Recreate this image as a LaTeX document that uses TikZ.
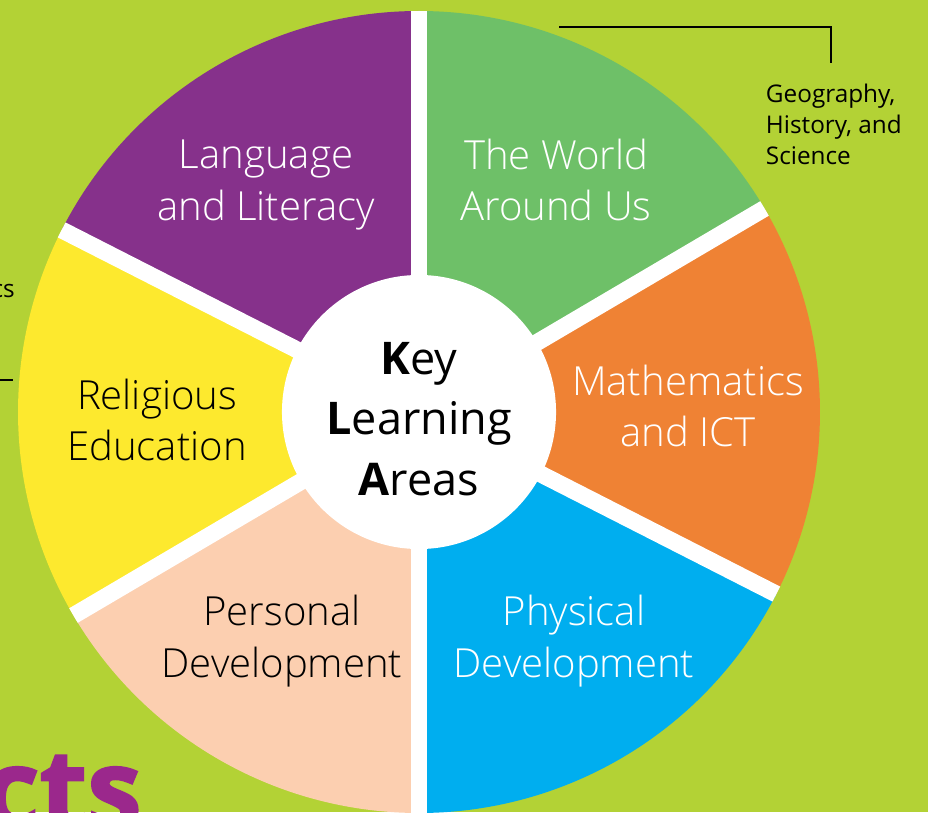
\documentclass[tikz,border=0pt]{standalone}
\usepackage{fontspec}
\setmainfont{Open Sans}
\IfFontExistsTF{Open Sans Light}{\newfontfamily\lightfont{Open Sans Light}}{\newfontfamily\lightfont{Open Sans}}
\newfontfamily\ctsfont[BoldFeatures={FakeBold=2}]{Open Sans}
\usepackage{tikz}
\usetikzlibrary{positioning}

\definecolor{bggreen}{RGB}{179,210,53}
\definecolor{klapurple}{RGB}{134,49,139}
\definecolor{klagreen}{RGB}{110,192,104}
\definecolor{klaorange}{RGB}{239,130,52}
\definecolor{klablue}{RGB}{0,174,239}
\definecolor{klapeach}{RGB}{252,207,176}
\definecolor{klayellow}{RGB}{253,233,46}
\definecolor{ctspurple}{RGB}{155,40,140}

\begin{document}
\begin{tikzpicture}[x=0.025cm,y=0.025cm]
  \useasboundingbox (0,0) rectangle (928,812);
  \fill[bggreen] (0,0) rectangle (928,812);

  \coordinate (centre) at (419,400);

  \fill[klapurple] (centre) -- ++(90:401) arc[start angle=90,end angle=153,radius=401] -- cycle;
  \fill[klagreen] (centre) -- ++(30.5:401) arc[start angle=30.5,end angle=90,radius=401] -- cycle;
  \fill[klaorange] (centre) -- ++(-27:401) arc[start angle=-27,end angle=30.5,radius=401] -- cycle;
  \fill[klablue] (centre) -- ++(-90:401) arc[start angle=-90,end angle=-27,radius=401] -- cycle;
  \fill[klapeach] (centre) -- ++(210.5:401) arc[start angle=210.5,end angle=270,radius=401] -- cycle;
  \fill[klayellow] (centre) -- ++(153:401) arc[start angle=153,end angle=210.5,radius=401] -- cycle;

  \begin{scope}
    \clip (centre) circle[radius=401];
    \draw[white,line width=12pt] ([shift={(90:410)}]centre) -- ([shift={(270:410)}]centre);
    \draw[white,line width=12pt] ([shift={(30.5:410)}]centre) -- ([shift={(210.5:410)}]centre);
    \draw[white,line width=12pt] ([shift={(153:410)}]centre) -- ([shift={(333:410)}]centre);
  \end{scope}

  \node at (419,400) [circle,fill=white,minimum size=6.85cm] (kla) {};
  \node at (419,393) [align=center,font=\fontsize{32}{43}\selectfont] (kla-text) {
    \textbf{K}ey\\
    \textbf{L}earning\\
    \textbf{A}reas
  };

  \node at (266,627) [align=center,text=white,font=\lightfont\fontsize{28.5}{36.5}\selectfont] (language) {
    Language\\
    and Literacy
  };

  \node at (556,632) [align=center,text=white,font=\lightfont\fontsize{28.5}{36.5}\selectfont] (world) {
    The World\\
    Around Us
  };

  \node at (688,406) [align=center,text=white,font=\lightfont\fontsize{28.5}{36.5}\selectfont] (maths) {
    Mathematics\\
    and ICT
  };

  \node at (574,171) [align=center,text=white,font=\lightfont\fontsize{28.5}{36.5}\selectfont] (physical) {
    Physical\\
    Development
  };

  \node at (282,171) [align=center,text=black,font=\lightfont\fontsize{28.5}{36.5}\selectfont] (personal) {
    Personal\\
    Development
  };

  \node at (157,392) [align=center,text=black,font=\lightfont\fontsize{28.5}{36.5}\selectfont] (religious) {
    Religious\\
    Education
  };

  \node at (761,688) [anchor=west,align=left,font=\fontsize{17.3}{22}\selectfont] (geo) {
    Geography,\\
    History, and\\
    Science
  };

  \node at (15,521) [anchor=east,inner sep=0pt,font=\fontsize{17.3}{22}\selectfont] (maths-note) {cs};

  \node at (142,-16) [anchor=base east,inner sep=0pt,text=ctspurple,font=\ctsfont\bfseries\fontsize{78}{78}\selectfont] (facts) {cts};

  \coordinate (geo-start) at (559,785);
  \coordinate (geo-end) at (831,749);
  \draw[line width=1.8pt] (geo-start) -| (geo-end);

  \coordinate (note-start) at (0,432);
  \coordinate (note-end) at (13,432);
  \draw[line width=1.8pt] (note-start) -- (note-end);
\end{tikzpicture}
\end{document}
